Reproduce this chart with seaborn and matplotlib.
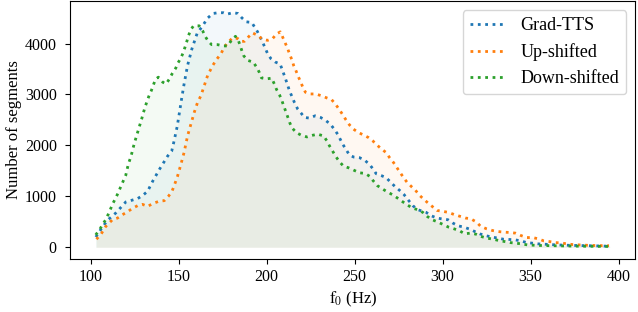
import numpy as np
import pandas as pd
import matplotlib
matplotlib.use("Agg")
import matplotlib.pyplot as plt
import seaborn as sns

# DATA
grad_f = [103, 105.7, 109.5, 114.3, 120, 126.7, 129.5, 132.4, 135.3, 139.1, 143.8, 146.1,
          147.4, 149.2, 150.5, 151.7, 153.1, 155.1, 157.6, 160.5, 163.5, 166.5, 169.5, 172.5,
          175.5, 177.5, 180.8, 183.7, 185.9, 188.4, 191.6, 194.9, 197.7, 200.6, 202.5, 205,
          207.7, 209.1, 211.1, 213, 215.8, 217.7, 219.6, 221.5, 224.4, 227.6, 230.7, 233.9,
          236.2, 238.5, 240.4, 243.3, 245.1, 247.1, 249.5, 252.8, 255.7, 258.5, 260.4, 262.3,
          265.1, 268, 270.5, 272.8, 275.7, 278.1, 280, 283.1, 285.9, 290.7, 293.5, 296.8,
          300.2, 303.1, 305.9, 308.8, 312, 315.4, 318.3, 321.1, 325, 328.4, 331.7, 334.5,
          338.3, 341.4, 344.6, 347.8, 351.3, 354.7, 358, 365, 375, 385, 395]
grad_n = [200, 342, 526, 672, 889, 955, 1014, 1099, 1297, 1528, 1791, 1889,
          2080, 2370, 2648, 2911, 3200, 3569, 3899, 4196, 4340, 4500, 4590, 4605,
          4605, 4577, 4605, 4591, 4506, 4427, 4413, 4229, 4032, 3800, 3702, 3636,
          3597, 3470, 3273, 3075, 2846, 2713, 2634, 2549, 2536, 2581, 2549, 2482,
          2417, 2318, 2219, 2022, 1923, 1810, 1771, 1759, 1711, 1626, 1541, 1443,
          1409, 1364, 1277, 1198, 1113, 1034, 949, 816, 737, 684, 619, 573,
          553, 540, 474, 421, 395, 356, 308, 263, 223, 198, 178, 158,
          152, 144, 125, 91, 79, 65, 59, 45, 35, 28, 20]

up_f = [103.3, 105.7, 108.6, 112.4, 115.3, 118.1, 121, 123.8, 126.7, 129.5, 132.4, 135.3,
        138.7, 141.9, 144.2, 146.1, 147.4, 149.4, 151.3, 153.1, 155.1, 157, 158.9, 160.8,
        162.7, 164.6, 166.5, 169.4, 171.6, 174.1, 176, 178.3, 180.8, 183.7, 185.5, 187.4,
        189.7, 192, 194.9, 197.7, 200.6, 203.4, 205.7, 207.8, 209.1, 210.5, 212, 213,
        214.3, 215.4, 216.8, 218, 219.3, 220.6, 222.1, 224.8, 227.8, 231.1, 234.3, 237,
        239.4, 241.4, 243.3, 245.1, 247.1, 249.4, 252.2, 255.3, 257.9, 260.4, 262.9, 265.5,
        268, 269.9, 272.2, 274.1, 276, 277.9, 279.8, 282.1, 284.6, 286.9, 289.1, 291.7,
        294.1, 296.8, 300.2, 303.4, 306.9, 310.1, 313.1, 316, 319.3, 321.7, 325, 328.4,
        331.7, 334.9, 338.3, 341.4, 344.6, 347.8, 351.3, 354.5, 357.5, 360.8, 364.2, 367.4,
        370.7, 374.1, 377.9, 381.3, 384.6, 387.8, 391.3, 394.6]
up_n = [158, 243, 408, 540, 573, 638, 698, 763, 816, 842, 802, 856,
        901, 915, 1000, 1087, 1198, 1395, 1626, 1858, 2186, 2417, 2648, 2846,
        2976, 3174, 3372, 3569, 3688, 3800, 3933, 4032, 4111, 4097, 4043, 4043,
        4130, 4209, 4162, 4083, 4063, 4097, 4190, 4229, 4130, 4018, 3899, 3800,
        3688, 3569, 3458, 3352, 3253, 3142, 3043, 3010, 3010, 2976, 2931, 2897,
        2798, 2700, 2601, 2502, 2403, 2318, 2253, 2200, 2154, 2087, 2002, 1923,
        1858, 1759, 1660, 1561, 1462, 1364, 1277, 1198, 1119, 1020, 949, 870,
        802, 723, 704, 684, 638, 605, 573, 559, 494, 408, 362, 328,
        308, 296, 290, 277, 229, 190, 190, 164, 125, 111, 91, 85,
        65, 52, 45, 40, 35, 33, 30, 30]

down_f = [102.9, 105.1, 106.7, 108.6, 110.1, 111.4, 112.8, 114.3, 115.8, 117.1, 118.5, 120,
          121.4, 122.5, 123.4, 124.2, 125.1, 126.1, 127.1, 128, 129, 129.9, 130.9, 132,
          133.1, 134.5, 135.7, 136.8, 138.5, 141, 142.9, 144.8, 146.3, 148.4, 149.7, 151.3,
          152.6, 153.7, 154.7, 155.7, 157, 158.5, 161.7, 163.7, 165.1, 166.9, 168.8, 172.2,
          175.4, 177.9, 179.4, 180.8, 182.3, 183.7, 185, 186, 187.1, 189.4, 192.4, 194.3,
          195.8, 197.1, 200, 202.9, 204.4, 205.7, 207.3, 208.6, 209.7, 210.9, 212, 213.1,
          214.3, 216.8, 219.7, 222.9, 226.3, 229.1, 232.4, 234.3, 235.8, 237.5, 239.4, 241.4,
          243.7, 246.5, 249.5, 252.8, 256, 258.5, 260.8, 262.9, 265.5, 268.6, 271.4, 274.3,
          277, 279.8, 282.7, 285.9, 288.8, 291.3, 294.1, 297.4, 300.6, 303.4, 306.5, 309.7,
          312.6, 315.8, 318.9, 322.1, 325.4, 328.8, 332, 335.4, 338.3, 341.7, 345.1, 348.4,
          355, 365, 375, 385, 395]
down_n = [243, 342, 441, 540, 652, 757, 869, 968, 1079, 1186, 1297, 1415,
          1626, 1739, 1844, 1957, 2067, 2186, 2298, 2403, 2516, 2628, 2747, 2858,
          2964, 3075, 3188, 3292, 3340, 3241, 3207, 3306, 3405, 3518, 3622, 3715,
          3820, 3933, 4043, 4162, 4275, 4348, 4348, 4249, 4142, 4043, 3978, 3978,
          3953, 3953, 4032, 4083, 4142, 4083, 3964, 3854, 3755, 3668, 3636, 3538,
          3439, 3326, 3306, 3320, 3207, 3095, 2996, 2891, 2779, 2668, 2561, 2451,
          2352, 2253, 2200, 2166, 2200, 2219, 2186, 2087, 1988, 1889, 1779, 1680,
          1593, 1561, 1514, 1462, 1449, 1395, 1296, 1211, 1152, 1087, 1034, 968,
          901, 836, 771, 737, 684, 605, 540, 494, 441, 395, 362, 322,
          263, 277, 257, 209, 178, 158, 131, 111, 92, 79, 65, 45,
          35, 28, 22, 18, 15]

series = [("Grad-TTS", grad_f, grad_n, "tab:blue"),
          ("Up-shifted", up_f, up_n, "tab:orange"),
          ("Down-shifted", down_f, down_n, "tab:green")]

plt.rcParams["font.family"] = "serif"
plt.rcParams["font.serif"] = ["Liberation Serif", "DejaVu Serif"]
plt.rcParams["mathtext.fontset"] = "stix"

fig = plt.figure(figsize=(6.38, 3.12), dpi=100)
ax = fig.add_axes([0.1097, 0.17, 0.8863, 0.8268])

for name, f, n, c in series:
    df = pd.DataFrame({"f0": f, "count": n})
    sns.lineplot(data=df, x="f0", y="count", ax=ax, color=c, linestyle=":",
                 linewidth=2, label=name)
    ax.fill_between(df["f0"], df["count"], color=c, alpha=0.05, linewidth=0)

ax.set_xticks([100, 150, 200, 250, 300, 350, 400])
ax.set_yticks([0, 1000, 2000, 3000, 4000])
ax.tick_params(labelsize=11.5)
ax.tick_params(axis="y", pad=6)
ax.set_xlabel(r"$\mathrm{f}_0$ (Hz)", fontsize=12)
ax.set_ylabel("Number of segments", fontsize=12, labelpad=2)
ax.legend(loc="upper right", fontsize=13)

plt.savefig("out.png", dpi=100)
